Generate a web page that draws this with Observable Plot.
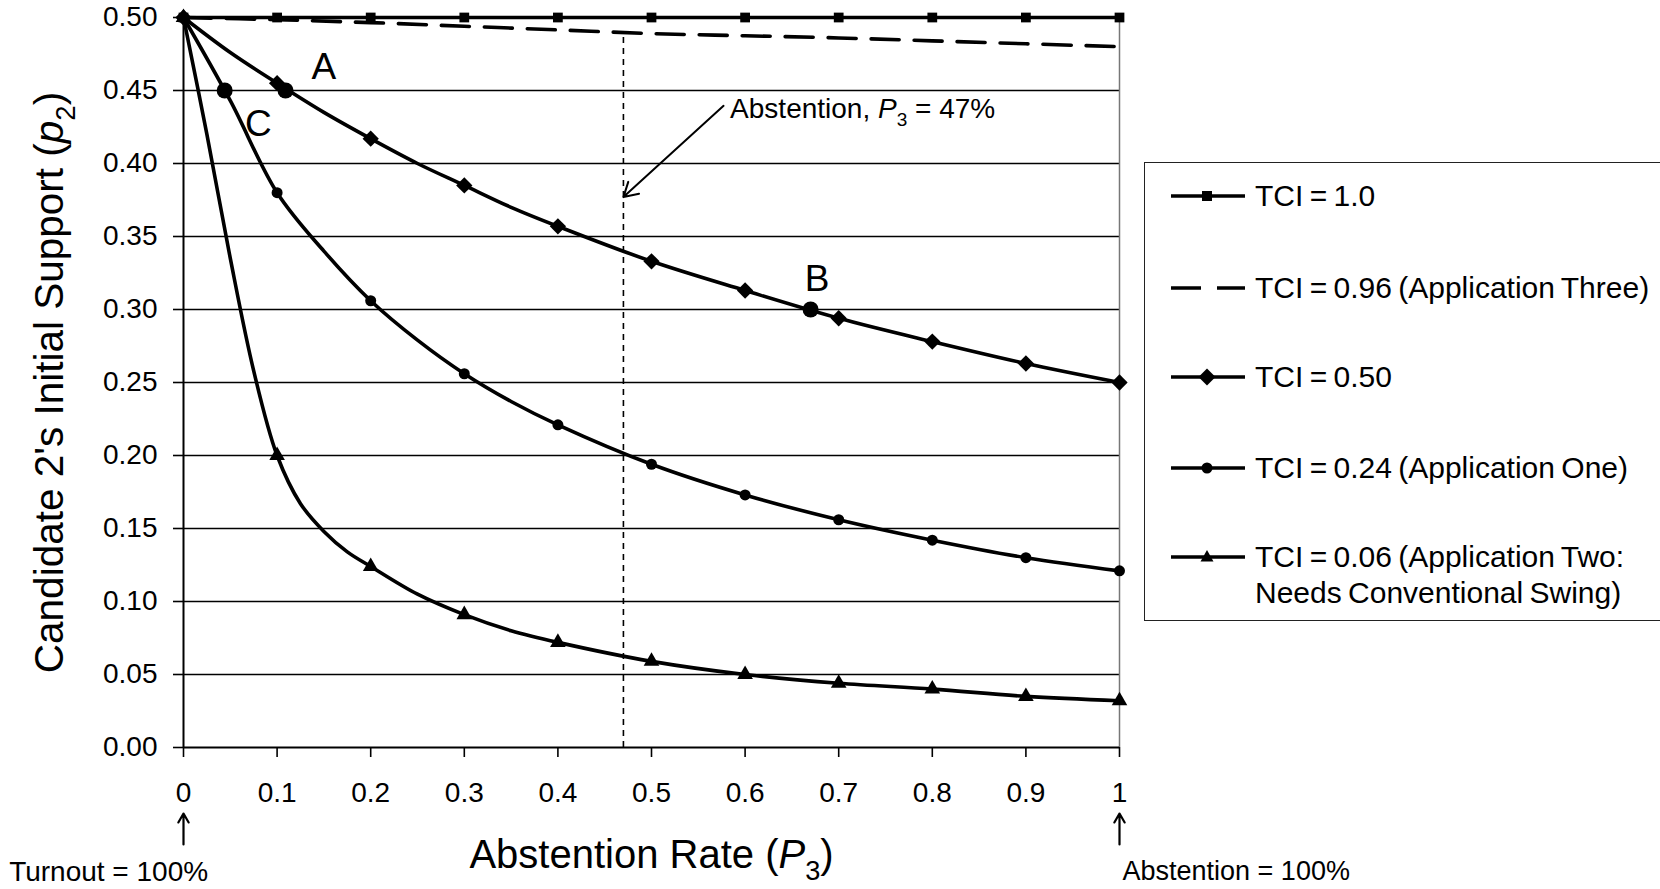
<!DOCTYPE html>
<html><head><meta charset="utf-8">
<script src="https://cdn.jsdelivr.net/npm/d3@7"></script>
<script src="https://cdn.jsdelivr.net/npm/@observablehq/plot@0.6"></script>
<style>
body{margin:0;background:#fff;overflow:hidden;font-family:"Liberation Sans",Arial,sans-serif;color:#000;}
#wrap{position:relative;width:1660px;height:889px;}
#legend{position:absolute;left:1144px;top:162px;width:540px;height:459px;border:1.5px solid #222;box-sizing:border-box;background:#fff;}
.entry{position:absolute;left:0;width:540px;height:36px;}
.entry svg{position:absolute;left:24px;top:0;}
.entry span{position:absolute;left:110px;top:0;line-height:36px;font-size:30px;word-spacing:-2px;white-space:nowrap;}
</style></head><body><div id="wrap"></div>
<script>
// ---- data ----
const abstention = [0, 0.1, 0.2, 0.3, 0.4, 0.5, 0.6, 0.7, 0.8, 0.9, 1];
const tci100 = [0.5, 0.5, 0.5, 0.5, 0.5, 0.5, 0.5, 0.5, 0.5, 0.5, 0.5];
const tci096 = [0.5, 0.4985, 0.4965, 0.494, 0.4915, 0.489, 0.4875, 0.486, 0.484, 0.482, 0.480];
const tci050 = [0.5, 0.455, 0.417, 0.385, 0.357, 0.333, 0.313, 0.294, 0.278, 0.263, 0.25];
const tci024 = [0.5, 0.38, 0.306, 0.256, 0.221, 0.194, 0.173, 0.156, 0.142, 0.130, 0.121];
const tci006 = [0.5, 0.2, 0.124, 0.091, 0.072, 0.059, 0.050, 0.044, 0.040, 0.035, 0.032];
// extra (unmarked) points along the curves
const extraX050 = [0.05, 0.15, 0.25, 0.35];
const extraY050 = [0.476, 0.435, 0.400, 0.370];
const extraX024 = [0.05, 0.15, 0.25, 0.35];
const extraY024 = [0.443, 0.340, 0.279, 0.237];
const extraX006 = [0.025, 0.05, 0.075, 0.125, 0.15, 0.175, 0.25, 0.35];
const extraY006 = [0.42, 0.335, 0.258, 0.167, 0.148, 0.134, 0.105, 0.080];
// highlighted points A, B, C
const pointLabels = ["A", "B", "C"];
const pointX = [0.109, 0.67, 0.044];
const pointY = [0.45, 0.30, 0.45];
const labelX = [0.150, 0.677, 0.080];
const labelY = [0.466, 0.321, 0.427];
const abstentionMark = 0.47;
const seriesLabels = ["TCI = 1.0", "TCI = 0.96 (Application Three)", "TCI = 0.50", "TCI = 0.24 (Application One)", "TCI = 0.06 (Application Two:\nNeeds Conventional Swing)"];
const xTicks = [0, 0.1, 0.2, 0.3, 0.4, 0.5, 0.6, 0.7, 0.8, 0.9, 1];
const yTicks = [0, 0.05, 0.1, 0.15, 0.2, 0.25, 0.3, 0.35, 0.4, 0.45, 0.5];

// ---- build tables ----
function rows(xs, ys, extraXs = [], extraYs = []) {
  const r = xs.map((x, i) => ({x, y: ys[i]}));
  extraXs.forEach((x, i) => r.push({x, y: extraYs[i]}));
  return r.sort((a, b) => a.x - b.x);
}
const marks100 = rows(abstention, tci100);
const line096 = rows(abstention, tci096);
const marks050 = rows(abstention, tci050);
const marks024 = rows(abstention, tci024);
const marks006 = rows(abstention, tci006);
const line050 = rows(abstention, tci050, extraX050, extraY050);
const line024 = rows(abstention, tci024, extraX024, extraY024);
const line006 = rows(abstention, tci006, extraX006, extraY006);
const highlights = pointLabels.map((l, i) => ({l, x: pointX[i], y: pointY[i], lx: labelX[i], ly: labelY[i]}));

const FONT = '"Liberation Sans", Arial, sans-serif';
const LW = 3.6;
const plot = Plot.plot({
  width: 1660, height: 889,
  marginLeft: 183, marginRight: 541, marginTop: 17, marginBottom: 142,
  x: {domain: [0, 1]},
  y: {domain: [0, 0.5]},
  style: {fontFamily: FONT, fontSize: "28px", color: "#000", background: "transparent", overflow: "visible"},
  marks: [
    Plot.ruleY(yTicks.slice(1), {x1: 0, x2: 1, stroke: "#000", strokeWidth: 1.5}),
    Plot.ruleX([1], {y1: 0, y2: 0.5, stroke: "#777", strokeWidth: 1.5}),
    Plot.ruleX([abstentionMark], {y1: 0, y2: 0.489, stroke: "#000", strokeWidth: 1.6, strokeDasharray: "6,5"}),
    Plot.axisX({ticks: xTicks, tickFormat: d => (d === 0 ? "0" : d === 1 ? "1" : d.toFixed(1)), tickSize: 10, tickPadding: 25, fontSize: 28, label: null, strokeWidth: 1.6}),
    Plot.axisY({ticks: yTicks, tickFormat: d => d.toFixed(2), tickSize: 10, tickPadding: 16, fontSize: 28, label: null, strokeWidth: 1.6}),
    Plot.ruleY([0], {x1: 0, x2: 1, stroke: "#000", strokeWidth: 2}),
    Plot.ruleX([0], {y1: 0, y2: 0.5, stroke: "#000", strokeWidth: 2}),
    Plot.line(line096, {x: "x", y: "y", curve: "catmull-rom", stroke: "#000", strokeWidth: LW, strokeDasharray: "28,15"}),
    Plot.line(line050, {x: "x", y: "y", curve: "catmull-rom", stroke: "#000", strokeWidth: LW}),
    Plot.line(line024, {x: "x", y: "y", curve: "catmull-rom", stroke: "#000", strokeWidth: LW}),
    Plot.line(line006, {x: "x", y: "y", curve: "catmull-rom", stroke: "#000", strokeWidth: LW}),
    Plot.line(marks100, {x: "x", y: "y", stroke: "#000", strokeWidth: LW}),
    Plot.dot(marks100, {x: "x", y: "y", symbol: "square", r: 5.5, fill: "#000", stroke: "none"}),
    Plot.dot(marks050, {x: "x", y: "y", symbol: "square", rotate: 45, r: 6.5, fill: "#000", stroke: "none"}),
    Plot.dot(marks024, {x: "x", y: "y", symbol: "circle", r: 5.5, fill: "#000", stroke: "none"}),
    Plot.dot(marks006, {x: "x", y: "y", symbol: "triangle", r: 5.8, fill: "#000", stroke: "none"}),
    Plot.dot(highlights, {x: "x", y: "y", r: 8, fill: "#000", stroke: "none"}),
    Plot.text(highlights, {x: "lx", y: "ly", text: "l", fontSize: 37, fill: "#000"}),
    Plot.arrow([{x1: 0.577, y1: 0.4395, x2: abstentionMark, y2: 0.377}], {x1: "x1", y1: "y1", x2: "x2", y2: "y2", stroke: "#000", strokeWidth: 2, headLength: 12}),
    Plot.text(["Abstention, P3 = 47%"], {x: 0.584, y: 0.437, textAnchor: "start", fontSize: 28, fill: "#000", className: "annot"}),
    Plot.arrow([0, 1], {x1: d => d, x2: d => d, y1: -0.0664, y2: -0.0452, stroke: "#000", strokeWidth: 2.2, headLength: 10}),
    Plot.text(["Turnout = 100%"], {x: -0.08, y: -0.085, textAnchor: "middle", fontSize: 28, fill: "#000"}),
    Plot.text(["Abstention = 100%"], {x: 1, y: -0.085, textAnchor: "start", dx: 3, fontSize: 27, fill: "#000"}),
    Plot.text(["Abstention Rate (P3)"], {frameAnchor: "bottom", textAnchor: "middle", lineAnchor: "middle", dy: 108, fontSize: 40, fill: "#000", className: "xtitle"}),
    Plot.text(["Candidate 2's Initial Support (p2)"], {frameAnchor: "left", textAnchor: "middle", lineAnchor: "middle", rotate: -90, dx: -133, fontSize: 40.5, fill: "#000", className: "ytitle"})
  ]
});

// rich text (italic variable + subscript)
const NS = "http://www.w3.org/2000/svg";
function richify(cls, parts, fs) {
  plot.querySelectorAll("." + cls + " text").forEach(t => {
    while (t.firstChild) t.removeChild(t.firstChild);
    parts.forEach(p => {
      const ts = document.createElementNS(NS, "tspan");
      ts.textContent = p.t;
      if (p.i) ts.setAttribute("font-style", "italic");
      if (p.sub) { ts.setAttribute("font-size", (fs * 0.68) + "px"); ts.setAttribute("dy", (fs * 0.28) + "px"); }
      if (p.back) ts.setAttribute("dy", (-fs * 0.28) + "px");
      t.appendChild(ts);
    });
  });
}
richify("annot", [{t: "Abstention, "}, {t: "P", i: true}, {t: "3", sub: true}, {t: " = 47%", back: true}], 28);
richify("xtitle", [{t: "Abstention Rate ("}, {t: "P", i: true}, {t: "3", sub: true}, {t: ")", back: true}], 40);
richify("ytitle", [{t: "Candidate 2's Initial Support ("}, {t: "p", i: true}, {t: "2", sub: true}, {t: ")", back: true}], 40.5);

const wrap = document.getElementById("wrap");
wrap.appendChild(plot);

// legend
const legend = document.createElement("div");
legend.id = "legend";
const entryY = [33, 125, 214, 305, 394];
const kinds = ["square", "dash", "diamond", "circle", "triangle"];
kinds.forEach((k, i) => {
  const e = document.createElement("div");
  e.className = "entry";
  e.style.top = (entryY[i] - 18) + "px";
  let mk = "";
  if (k === "square") mk = '<rect x="33" y="13" width="10" height="10" fill="#000"/>';
  if (k === "diamond") mk = '<rect x="32" y="12" width="12" height="12" fill="#000" transform="rotate(45 38 18)"/>';
  if (k === "circle") mk = '<circle cx="38" cy="18" r="5.5" fill="#000"/>';
  if (k === "triangle") mk = '<path d="M38,11 L44.5,22.5 L31.5,22.5 Z" fill="#000"/>';
  const line = k === "dash"
    ? '<line x1="2" y1="18" x2="76" y2="18" stroke="#000" stroke-width="3.6" stroke-dasharray="30,16"/>'
    : '<line x1="2" y1="18" x2="76" y2="18" stroke="#000" stroke-width="3.4"/>';
  const lines = seriesLabels[i].split("\n");
  e.innerHTML = '<svg width="80" height="36">' + line + mk + '</svg>' +
    lines.map((s, j) => '<span style="top:' + (j * 36) + 'px">' + s + '</span>').join("");
  legend.appendChild(e);
});
wrap.appendChild(legend);
</script>
</body></html>
